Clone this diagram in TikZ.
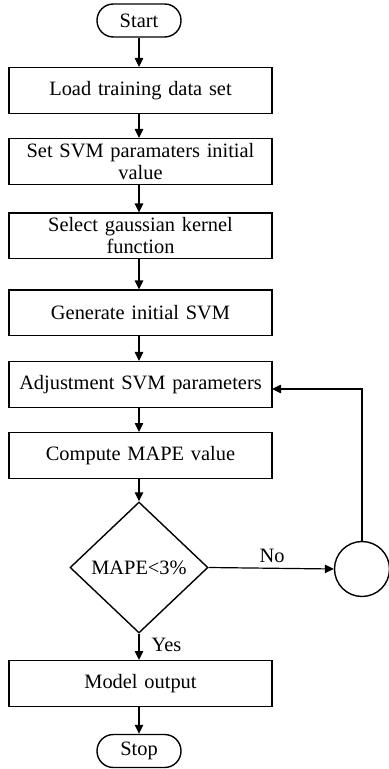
\documentclass[tikz,border=0pt]{standalone}
\usepackage{fontspec}
\setmainfont{Liberation Serif}
\usetikzlibrary{shapes.geometric,arrows.meta}
\begin{document}
\begin{tikzpicture}[x=0.5pt,y=-0.5pt,
  every node/.style={font=\fontsize{10.2}{11}\selectfont, line width=0.7pt},
  terminal/.style={draw, rectangle, rounded corners=8.2pt, minimum width=42pt, minimum height=16.5pt, inner sep=0pt},
  process/.style={draw, rectangle, minimum width=131.5pt, minimum height=22.8pt, inner sep=0pt, align=center, text width=125pt},
  decision/.style={draw, diamond, minimum width=69pt, minimum height=65.5pt, inner sep=0pt},
  joint/.style={draw, circle, minimum size=27.5pt, inner sep=0pt},
  flow/.style={line width=0.6pt, -{Triangle[length=4.5pt,width=4.2pt]}},
  lbl/.style={inner sep=0pt}]
\useasboundingbox (0,0) rectangle (388,769);
% main column
\node[terminal] (start) at (139,20.5) {Start};
\node[process] (load) at (140.5,90.5) {Load training data set};
\node[process] (init) at (140.5,161.5) {Set SVM paramaters initial\\value};
\node[process] (kernel) at (140.5,236) {Select gaussian kernel\\function};
\node[process] (gen) at (140.5,313) {Generate initial SVM};
\node[process] (adj) at (140.5,384.5) {Adjustment SVM parameters};
\node[process] (mape) at (140.5,455.5) {Compute MAPE value};
\node[decision] (test) at (139,567.5) {MAPE<3\%};
\node[process] (out) at (140.5,683.5) {Model output};
\node[terminal] (stop) at (139,751) {Stop};
% loop-back connector
\node[joint] (back) at (362,569) {};
\coordinate (ret) at (272,389);
% labels
\node[lbl] (no) at (272,556) {No};
\node[lbl, anchor=west] (yes) at (151,645) {Yes};
% connectors
\draw[flow] (start.south) -- (start.south |- load.north);
\draw[flow] (start.south |- load.south) -- (start.south |- init.north);
\draw[flow] (start.south |- init.south) -- (start.south |- kernel.north);
\draw[flow] (start.south |- kernel.south) -- (start.south |- gen.north);
\draw[flow] (start.south |- gen.south) -- (start.south |- adj.north);
\draw[flow] (start.south |- adj.south) -- (start.south |- mape.north);
\draw[flow] (start.south |- mape.south) -- (test.north);
\draw[flow] (test.south) -- (test.south |- out.north);
\draw[flow] (start.south |- out.south) -- (stop.north);
\draw[flow] (test.east) -- (back.west);
\draw[flow] (back.north) |- (ret);
\end{tikzpicture}
\end{document}
